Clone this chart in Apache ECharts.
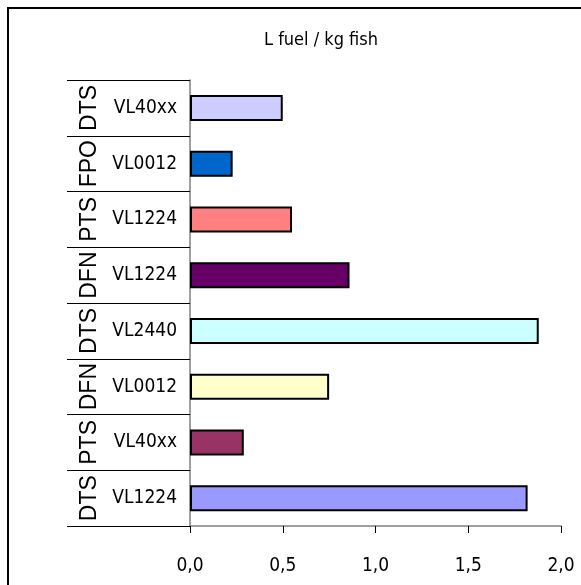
<!DOCTYPE html>
<html>
<head>
<meta charset="utf-8">
<style>
  html, body { margin: 0; padding: 0; background: #ffffff; }
  #chart { width: 581px; height: 585px; }
</style>
<script src="https://cdn.jsdelivr.net/npm/echarts@6/dist/echarts.min.js"></script>
</head>
<body>
<div id="chart"></div>
<script>
// Fuel use per kg of fish, by fleet segment (listed top to bottom)
const gears   = ['DTS', 'FPO', 'PTS', 'DFN', 'DTS', 'DFN', 'PTS', 'DTS'];
const lengths = ['VL40xx', 'VL0012', 'VL1224', 'VL1224', 'VL2440', 'VL0012', 'VL40xx', 'VL1224'];
const litresPerKg = [0.50, 0.23, 0.55, 0.86, 1.88, 0.75, 0.29, 1.82];
const barColors = ['#CCCCFF', '#0066CC', '#FF8080', '#660066', '#CCFFFF', '#FFFFCC', '#993366', '#9999FF'];
const xTicks = [0, 0.5, 1, 1.5, 2];

const FONT = '"Liberation Sans Narrow", "DejaVu Sans Condensed", "Liberation Sans", sans-serif';
const slots = lengths.map((_, i) => String(i));

const chart = echarts.init(document.getElementById('chart'), null, { renderer: 'canvas' });

chart.setOption({
  backgroundColor: '#ffffff',
  animation: false,
  title: {
    text: 'L fuel / kg fish',
    left: 316,
    top: 26,
    textAlign: 'center',
    textStyle: { fontFamily: FONT, fontSize: 18, fontWeight: 'normal', color: '#000000' }
  },
  graphic: [{
    type: 'rect',
    shape: { x: 8, y: 8, width: 700, height: 700 },
    style: { fill: 'none', stroke: '#000000', lineWidth: 2 },
    silent: true
  }],
  grid: { left: 190, right: 20, top: 80, bottom: 59, containLabel: false },
  xAxis: {
    type: 'value',
    min: xTicks[0],
    max: xTicks[xTicks.length - 1],
    interval: 0.5,
    splitLine: { show: false },
    axisLine: { show: true, lineStyle: { color: '#808080', width: 1.5 } },
    axisTick: { show: true, length: 7, lineStyle: { color: '#000000', width: 1 } },
    axisLabel: {
      margin: 31,
      fontFamily: FONT,
      fontSize: 19,
      color: '#000000',
      formatter: v => v.toFixed(1).replace('.', ',')
    }
  },
  yAxis: [{
    type: 'category',
    data: slots,
    inverse: true,
    position: 'left',
    axisLine: { show: true, lineStyle: { color: '#808080', width: 1.5 } },
    axisTick: { show: true, interval: 0, length: 123, lineStyle: { color: '#000000', width: 1 } },
    axisLabel: {
      interval: 0,
      margin: 13,
      fontFamily: FONT,
      fontSize: 19,
      color: '#000000',
      formatter: (v, i) => lengths[i]
    }
  }, {
    type: 'category',
    data: slots,
    inverse: true,
    position: 'left',
    offset: 89,
    axisLine: { show: false },
    axisTick: { show: false },
    axisLabel: {
      interval: 0,
      margin: 0,
      rotate: 90,
      fontFamily: '"Liberation Sans", Arial, sans-serif',
      fontSize: 23,
      color: '#000000',
      formatter: (v, i) => gears[i]
    }
  }],
  series: [{
    type: 'bar',
    yAxisIndex: 0,
    barWidth: 26,
    data: litresPerKg.map((v, i) => ({
      value: v,
      itemStyle: { color: barColors[i] }
    })),
    itemStyle: { borderColor: '#000000', borderWidth: 2 }
  }]
});
</script>
</body>
</html>
